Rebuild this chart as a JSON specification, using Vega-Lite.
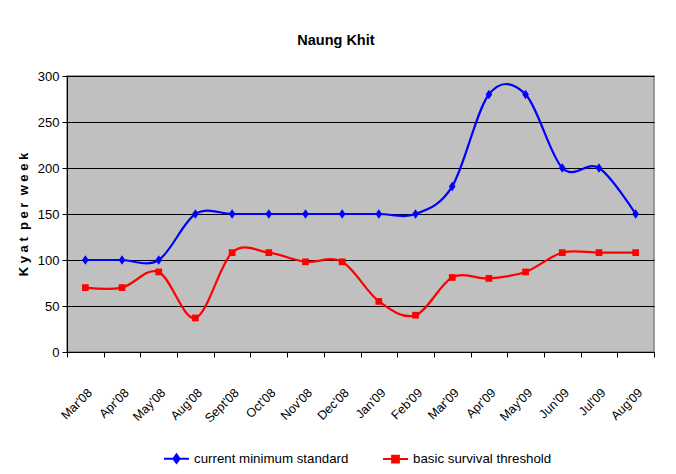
{
  "$schema": "https://vega.github.io/schema/vega-lite/v6.json",
  "width": 587,
  "height": 276,
  "autosize": {"type": "none"},
  "padding": {"left": 67, "top": 76, "right": 22, "bottom": 122},
  "background": "#FFFFFF",
  "title": {
    "text": "Naung Khit",
    "font": "Liberation Sans",
    "fontSize": 14.5,
    "fontWeight": "bold",
    "color": "#000000",
    "anchor": "middle",
    "frame": "bounds",
    "offset": 22
  },
  "data": {
    "values": [
      {"month": "Mar'08", "series": "current minimum standard", "value": 100},
      {"month": "Apr'08", "series": "current minimum standard", "value": 100},
      {"month": "May'08", "series": "current minimum standard", "value": 100},
      {"month": "Aug'08", "series": "current minimum standard", "value": 150},
      {"month": "Sept'08", "series": "current minimum standard", "value": 150},
      {"month": "Oct'08", "series": "current minimum standard", "value": 150},
      {"month": "Nov'08", "series": "current minimum standard", "value": 150},
      {"month": "Dec'08", "series": "current minimum standard", "value": 150},
      {"month": "Jan'09", "series": "current minimum standard", "value": 150},
      {"month": "Feb'09", "series": "current minimum standard", "value": 150},
      {"month": "Mar'09", "series": "current minimum standard", "value": 180},
      {"month": "Apr'09", "series": "current minimum standard", "value": 280},
      {"month": "May'09", "series": "current minimum standard", "value": 280},
      {"month": "Jun'09", "series": "current minimum standard", "value": 200},
      {"month": "Jul'09", "series": "current minimum standard", "value": 200},
      {"month": "Aug'09", "series": "current minimum standard", "value": 150},
      {"month": "Mar'08", "series": "basic survival threshold", "value": 70},
      {"month": "Apr'08", "series": "basic survival threshold", "value": 70},
      {"month": "May'08", "series": "basic survival threshold", "value": 87},
      {"month": "Aug'08", "series": "basic survival threshold", "value": 37},
      {"month": "Sept'08", "series": "basic survival threshold", "value": 108},
      {"month": "Oct'08", "series": "basic survival threshold", "value": 108},
      {"month": "Nov'08", "series": "basic survival threshold", "value": 98},
      {"month": "Dec'08", "series": "basic survival threshold", "value": 98},
      {"month": "Jan'09", "series": "basic survival threshold", "value": 55},
      {"month": "Feb'09", "series": "basic survival threshold", "value": 40},
      {"month": "Mar'09", "series": "basic survival threshold", "value": 81},
      {"month": "Apr'09", "series": "basic survival threshold", "value": 80},
      {"month": "May'09", "series": "basic survival threshold", "value": 87},
      {"month": "Jun'09", "series": "basic survival threshold", "value": 108},
      {"month": "Jul'09", "series": "basic survival threshold", "value": 108},
      {"month": "Aug'09", "series": "basic survival threshold", "value": 108}
    ]
  },
  "encoding": {
    "x": {
      "field": "month",
      "type": "nominal",
      "sort": null,
      "scale": {"type": "band", "paddingInner": 0, "paddingOuter": 0},
      "axis": {
        "title": null,
        "labelAngle": -45,
        "tickBand": "extent",
        "labelFont": "Liberation Sans",
        "labelFontSize": 12.5,
        "labelColor": "#000000",
        "labelPadding": 29,
        "labelDx": -2,
        "domainColor": "#000000",
        "tickColor": "#000000",
        "tickSize": 5,
        "grid": false
      }
    },
    "y": {
      "field": "value",
      "type": "quantitative",
      "scale": {"domain": [0, 300], "nice": false},
      "axis": {
        "title": "K y a t \u00a0p e r \u00a0w e e k",
        "titleFont": "Liberation Sans",
        "titleFontSize": 13,
        "titleFontWeight": "bold",
        "titleColor": "#000000",
        "titlePadding": 7,
        "values": [0, 50, 100, 150, 200, 250, 300],
        "labelFont": "Liberation Sans",
        "labelFontSize": 13,
        "labelColor": "#000000",
        "labelPadding": 3,
        "domainColor": "#000000",
        "tickColor": "#000000",
        "tickSize": 5,
        "grid": true,
        "gridColor": "#000000",
        "gridWidth": 1,
        "gridOpacity": 1
      }
    },
    "color": {
      "field": "series",
      "type": "nominal",
      "scale": {
        "domain": ["current minimum standard", "basic survival threshold"],
        "range": ["#0000FF", "#FF0000"]
      },
      "legend": {
        "title": null,
        "orient": "none",
        "direction": "horizontal",
        "legendX": 96,
        "legendY": 369,
        "labelFont": "Liberation Sans",
        "labelFontSize": 13.3,
        "labelColor": "#000000",
        "labelOffset": 4,
        "columnPadding": 30,
        "symbolSize": 625,
        "symbolStrokeWidth": 2,
        "encode": {
          "symbols": {
            "update": {
              "shape": {"signal": "datum.value === 'current minimum standard' ? 'M-1,0H1M0,-0.34L0.25,0L0,0.34L-0.25,0Z' : 'M-1,0H1M-0.27,-0.27H0.27V0.27H-0.27Z'"},
              "fill": {"signal": "datum.value === 'current minimum standard' ? '#0000FF' : '#FF0000'"},
              "stroke": {"signal": "datum.value === 'current minimum standard' ? '#0000FF' : '#FF0000'"},
              "strokeWidth": {"value": 2},
              "opacity": {"value": 1},
              "fillOpacity": {"value": 1}
            }
          }
        }
      }
    }
  },
  "layer": [
    {
      "mark": {"type": "line", "interpolate": "cardinal", "tension": 0, "strokeWidth": 2.2}
    },
    {
      "transform": [{"filter": "datum.series === 'current minimum standard'"}],
      "mark": {"type": "point", "filled": true, "opacity": 1, "shape": "M0,-1L0.7,0L0,1L-0.7,0Z", "size": 90}
    },
    {
      "transform": [{"filter": "datum.series === 'basic survival threshold'"}],
      "mark": {"type": "point", "filled": true, "opacity": 1, "shape": "square", "size": 45}
    }
  ],
  "config": {
    "view": {"fill": "#C0C0C0", "stroke": "#808080", "strokeWidth": 1.5}
  }
}
